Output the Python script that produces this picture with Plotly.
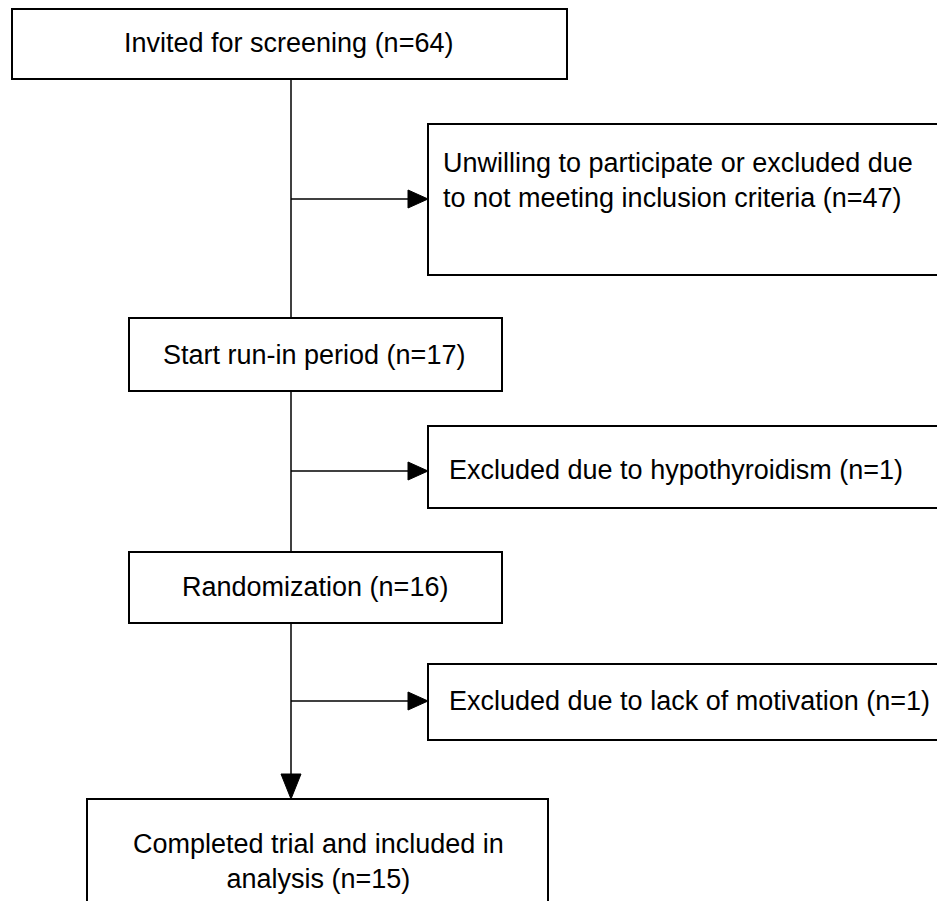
import plotly.graph_objects as go

# Flow data
labels = [
    "Invited for screening (n=64)",
    "Unwilling to participate or excluded due<br>to not meeting inclusion criteria (n=47)",
    "Start run-in period (n=17)",
    "Excluded due to hypothyroidism (n=1)",
    "Randomization (n=16)",
    "Excluded due to lack of motivation (n=1)",
    "Completed trial and included in<br>analysis (n=15)",
]
counts = [64, 47, 17, 1, 16, 1, 15]

# Layout geometry (page pixels): x0, y0, x1, y1
boxes = [
    (12, 9, 567, 79),
    (428, 124, 944, 275),
    (129, 318, 502, 391),
    (428, 426, 944, 508),
    (129, 552, 502, 623),
    (428, 664, 944, 740),
    (87, 799, 548, 930),
]
text_pos = [
    (288, 43, "center"),
    (441, 180, "left"),
    (314, 355, "center"),
    (447, 470, "left"),
    (315, 587, "center"),
    (447, 701, "left"),
    (318, 861, "center"),
]
spine_x = 291
branch_y = [199, 471, 701]

OFF = 8  # page body margin
W, H = 945, 901
fig = go.Figure()
shapes = []
# spine segments between boxes
spine_segments = [(79, 318), (391, 552), (623, 776)]
for (a, b) in spine_segments:
    shapes.append(dict(type="line", x0=spine_x, x1=spine_x, y0=a, y1=b,
                       line=dict(color="black", width=1.5)))
# down arrowhead
shapes.append(dict(type="path", path=f"M {spine_x-10} 774 L {spine_x+10} 774 L {spine_x} 799 Z",
                   fillcolor="black", line=dict(color="black", width=1)))
for by in branch_y:
    shapes.append(dict(type="line", x0=spine_x, x1=412, y0=by, y1=by,
                       line=dict(color="black", width=1.5)))
    shapes.append(dict(type="path", path=f"M 408 {by-9} L 428 {by} L 408 {by+9} Z",
                       fillcolor="black", line=dict(color="black", width=1)))
for (x0, y0, x1, y1) in boxes:
    shapes.append(dict(type="rect", x0=x0, y0=y0, x1=x1, y1=y1,
                       line=dict(color="black", width=2), fillcolor="rgba(0,0,0,0)"))

for lab, (tx, ty, al) in zip(labels, text_pos):
    fig.add_annotation(x=tx, y=ty, text=lab, showarrow=False,
                       xanchor=al, yanchor="middle", align=al,
                       font=dict(family="Liberation Sans, Arial", size=27, color="black"))

fig.update_layout(
    width=W - OFF, height=H - OFF, margin=dict(l=0, r=0, t=0, b=0),
    plot_bgcolor="white", paper_bgcolor="white", shapes=shapes,
    xaxis=dict(range=[OFF, W], visible=False, fixedrange=True),
    yaxis=dict(range=[H, OFF], visible=False, fixedrange=True),
    showlegend=False,
)
fig.write_html("out.html")
